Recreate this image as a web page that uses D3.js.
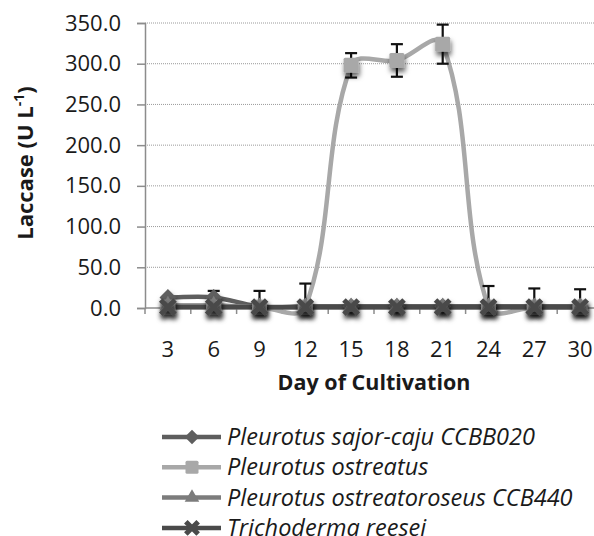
<!DOCTYPE html>
<html>
<head>
<meta charset="utf-8">
<script src="https://cdn.jsdelivr.net/npm/d3@7"></script>
<style>
  body { margin: 0; background: #fff; }
  svg { display: block; font-family: "Open Sans", Lato, sans-serif; }
</style>
</head>
<body>
<script>
var days = [3, 6, 9, 12, 15, 18, 21, 24, 27, 30];
var seriesNames = ['Pleurotus sajor-caju CCBB020', 'Pleurotus ostreatus',
                   'Pleurotus ostreatoroseus CCB440', 'Trichoderma reesei'];
var sajorCaju = [13, 13, 2, 2, 2, 2, 2, 2, 2, 2];
var ostreatus = [1, 1, 1, 1, 298, 304, 324, 1, 1, 1];
var ostreatoroseus = [3, 3, 1, 1, 1, 1, 1, 1, 1, 1];
var reesei = [1, 1, 1, 1, 1, 1, 1, 1, 1, 1];
var ostreatusErr = [0, 20, 20, 29, 15, 20, 24, 26, 23, 22];
var yTicks = [0, 50, 100, 150, 200, 250, 300, 350];

var w = 594, h = 536;
var plotLeft = 145, plotRight = 603, plotTop = 23, plotBottom = 308;

var series = [
  {name: seriesNames[0], values: sajorCaju, colour: '#5e5e5e', shape: 'diamond'},
  {name: seriesNames[1], values: ostreatus, colour: '#a8a8a8', shape: 'square'},
  {name: seriesNames[2], values: ostreatoroseus, colour: '#7c7c7c', shape: 'triangle'},
  {name: seriesNames[3], values: reesei, colour: '#4a4a4a', shape: 'cross'}
];

var xScale = d3.scaleBand().domain(days).range([plotLeft, plotRight]).padding(0);
var yScale = d3.scaleLinear().domain([0, 350]).range([plotBottom, plotTop]);
var xMid = function(d){ return xScale(d) + xScale.bandwidth() / 2; };

// spreadsheet-style smoothing: tangent follows the neighbours,
// handle length follows the segment's own length
function smoothCurve(context) {
  var pts;
  return {
    areaStart: function(){}, areaEnd: function(){},
    lineStart: function(){ pts = []; },
    point: function(x, y){ pts.push([+x, +y]); },
    lineEnd: function(){
      var n = pts.length;
      if (!n) return;
      var dir = function(i){
        var a = pts[Math.max(0, i - 1)], b = pts[Math.min(n - 1, i + 1)];
        var dx = b[0] - a[0], dy = b[1] - a[1], l = Math.hypot(dx, dy) || 1;
        return [dx / l, dy / l];
      };
      context.moveTo(pts[0][0], pts[0][1]);
      for (var i = 0; i < n - 1; i++) {
        var p = pts[i], q = pts[i + 1];
        var len = Math.hypot(q[0] - p[0], q[1] - p[1]) / 3;
        var d0 = dir(i), d1 = dir(i + 1);
        context.bezierCurveTo(p[0] + d0[0] * len, p[1] + d0[1] * len,
                              q[0] - d1[0] * len, q[1] - d1[1] * len, q[0], q[1]);
      }
    }
  };
}

var svg = d3.select('body').append('svg')
  .attr('width', w)
  .attr('height', h);

var defs = svg.append('defs');
var shadow = defs.append('filter').attr('id', 'shadow')
  .attr('x', '-80%').attr('y', '-80%').attr('width', '260%').attr('height', '260%');
shadow.append('feDropShadow')
  .attr('dx', 1).attr('dy', 4).attr('stdDeviation', 2.6)
  .attr('flood-color', '#000').attr('flood-opacity', 0.6);

// gridlines
svg.append('g').selectAll('line')
  .data(yTicks.filter(function(t){ return t > 0; }))
  .enter().append('line')
  .attr('x1', plotLeft).attr('x2', w)
  .attr('y1', function(d){ return yScale(d); })
  .attr('y2', function(d){ return yScale(d); })
  .attr('stroke', '#9a9a9a')
  .attr('stroke-width', 1)
  .attr('stroke-dasharray', '1,1');

// y axis
var yAxis = d3.axisLeft(yScale).tickValues(yTicks).tickFormat(d3.format('.1f'))
  .tickSize(8).tickPadding(16);
var gy = svg.append('g').attr('transform', 'translate(' + plotLeft + ',0)').call(yAxis);
gy.select('.domain').attr('stroke', '#8c8c8c').attr('stroke-width', 1.5);
gy.selectAll('.tick line').attr('stroke', '#8c8c8c').attr('stroke-width', 1.5);
gy.selectAll('.tick text').attr('font-size', 22).attr('fill', '#1a1a1a')
  .attr('font-family', '"Open Sans", sans-serif');

// x axis
svg.append('line')
  .attr('x1', plotLeft).attr('x2', w)
  .attr('y1', plotBottom).attr('y2', plotBottom)
  .attr('stroke', '#8c8c8c').attr('stroke-width', 1.5);
svg.append('g').selectAll('line')
  .data(days)
  .enter().append('line')
  .attr('x1', function(d){ return xScale(d); })
  .attr('x2', function(d){ return xScale(d); })
  .attr('y1', plotBottom).attr('y2', plotBottom + 6)
  .attr('stroke', '#8c8c8c').attr('stroke-width', 1.5);
svg.append('g').selectAll('text')
  .data(days)
  .enter().append('text')
  .text(function(d){ return d; })
  .attr('x', xMid)
  .attr('y', 357)
  .attr('text-anchor', 'middle')
  .attr('font-size', 22)
  .attr('fill', '#1a1a1a');

// axis titles
svg.append('text')
  .text('Day of Cultivation')
  .attr('x', (plotLeft + plotRight) / 2)
  .attr('y', 390)
  .attr('text-anchor', 'middle')
  .attr('font-size', 21.5)
  .attr('font-weight', 'bold')
  .attr('fill', '#1a1a1a');

var yt = svg.append('text')
  .attr('transform', 'translate(33,163) rotate(-90)')
  .attr('text-anchor', 'middle')
  .attr('font-size', 22)
  .attr('font-weight', 'bold')
  .attr('fill', '#1a1a1a');
yt.append('tspan').text('Laccase (U L');
yt.append('tspan').text('-1').attr('font-size', 14).attr('dy', -9);
yt.append('tspan').text(')').attr('dy', 9);

// lines
var line = d3.line()
  .x(function(d, i){ return xMid(days[i]); })
  .y(function(d){ return yScale(d); })
  .curve(smoothCurve);

svg.append('g').selectAll('path')
  .data(series)
  .enter().append('path')
  .attr('d', function(s){ return line(s.values); })
  .attr('fill', 'none')
  .attr('stroke', function(s){ return s.colour; })
  .attr('stroke-width', 4.5);

// error bars (P. ostreatus)
var eb = svg.append('g').selectAll('g')
  .data(days.map(function(d, i){ return {day: d, v: ostreatus[i], e: ostreatusErr[i]}; })
    .filter(function(d){ return d.e > 0; }))
  .enter().append('g')
  .attr('stroke', '#111').attr('stroke-width', 2.2);
eb.append('line')
  .attr('x1', function(d){ return xMid(d.day); })
  .attr('x2', function(d){ return xMid(d.day); })
  .attr('y1', function(d){ return yScale(d.v + d.e); })
  .attr('y2', function(d){ return yScale(Math.max(0, d.v - d.e)); });
eb.append('line')
  .attr('x1', function(d){ return xMid(d.day) - 6; })
  .attr('x2', function(d){ return xMid(d.day) + 6; })
  .attr('y1', function(d){ return yScale(d.v + d.e); })
  .attr('y2', function(d){ return yScale(d.v + d.e); });
eb.filter(function(d){ return d.v - d.e > 0; }).append('line')
  .attr('x1', function(d){ return xMid(d.day) - 6; })
  .attr('x2', function(d){ return xMid(d.day) + 6; })
  .attr('y1', function(d){ return yScale(d.v - d.e); })
  .attr('y2', function(d){ return yScale(d.v - d.e); });

// marker shapes
function drawMarker(g, shape, colour, size) {
  if (shape === 'diamond') {
    g.append('path').attr('d', d3.symbol(d3.symbolDiamond2, size * size * 0.8)())
      .attr('fill', colour);
  } else if (shape === 'square') {
    g.append('rect').attr('x', -size / 2).attr('y', -size / 2)
      .attr('width', size).attr('height', size).attr('rx', 1.5).attr('fill', colour);
  } else if (shape === 'triangle') {
    g.append('path').attr('d', d3.symbol(d3.symbolTriangle2, size * size * 0.9)())
      .attr('fill', colour);
  } else {
    g.append('path').attr('d', d3.symbol(d3.symbolX, size * size * 0.6)())
      .attr('stroke', colour).attr('stroke-width', 5).attr('fill', 'none');
  }
}

series.forEach(function(s){
  var mg = svg.append('g').attr('filter', 'url(#shadow)');
  mg.selectAll('g')
    .data(s.values)
    .enter().append('g')
    .attr('transform', function(d, i){
      return 'translate(' + xMid(days[i]) + ',' + yScale(d) + ')';
    })
    .each(function(){ drawMarker(d3.select(this), s.shape, s.colour, 15); });
});

// legend
var legend = svg.append('g').selectAll('g')
  .data(series)
  .enter().append('g')
  .attr('transform', function(d, i){ return 'translate(162,' + (437 + i * 30.3) + ')'; });
legend.append('line')
  .attr('x1', 0).attr('x2', 59)
  .attr('stroke', function(s){ return s.colour; })
  .attr('stroke-width', 4.5);
legend.each(function(s){
  var g = d3.select(this).append('g').attr('transform', 'translate(30,0)');
  drawMarker(g, s.shape, s.colour, 13);
});
legend.append('text')
  .text(function(s){ return s.name; })
  .attr('x', 65)
  .attr('y', 8)
  .attr('font-size', 23.5)
  .attr('font-style', 'italic')
  .attr('fill', '#1a1a1a');
</script>
</body>
</html>
